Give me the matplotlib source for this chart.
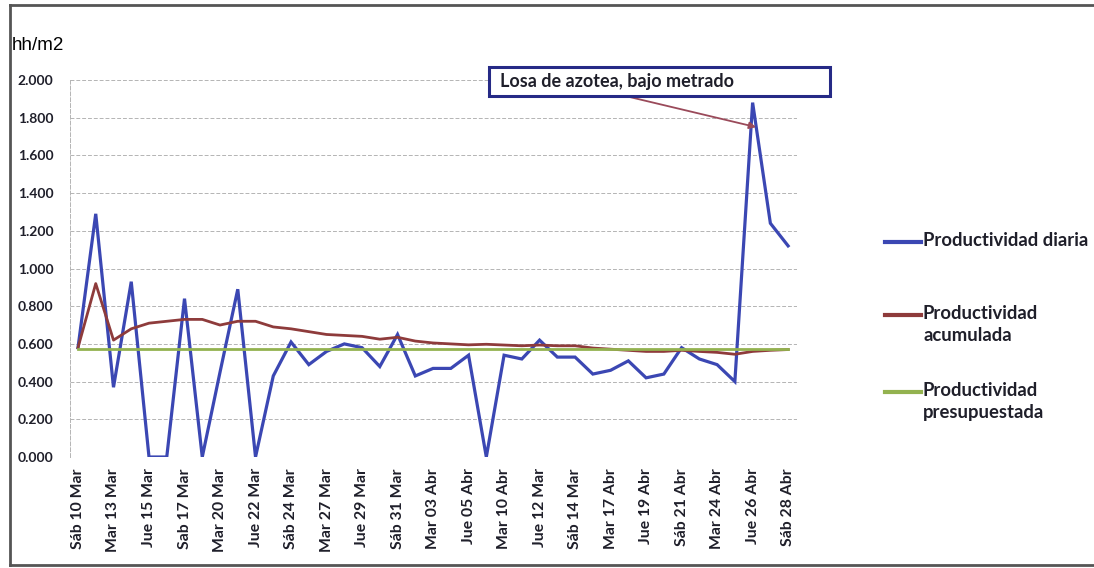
import matplotlib
matplotlib.use('Agg')
import matplotlib.pyplot as plt
from matplotlib.lines import Line2D
from matplotlib.patches import Rectangle

# dias trabajados (lun-sab), se rotula uno de cada dos
fechas = ["Sáb 10 Mar", "Lun 12 Mar", "Mar 13 Mar", "Mié 14 Mar", "Jue 15 Mar",
          "Vie 16 Mar", "Sab 17 Mar", "Lun 19 Mar", "Mar 20 Mar", "Mié 21 Mar",
          "Jue 22 Mar", "Vie 23 Mar", "Sáb 24 Mar", "Lun 26 Mar", "Mar 27 Mar",
          "Mié 28 Mar", "Jue 29 Mar", "Vie 30 Mar", "Sáb 31 Mar", "Lun 02 Abr",
          "Mar 03 Abr", "Mié 04 Abr", "Jue 05 Abr", "Lun 09 Abr", "Mar 10 Abr",
          "Mié 11 Abr", "Jue 12 Mar", "Vie 13 Abr", "Sáb 14 Mar", "Lun 16 Abr",
          "Mar 17 Abr", "Mié 18 Abr", "Jue 19 Abr", "Vie 20 Abr", "Sáb 21 Abr",
          "Lun 23 Abr", "Mar 24 Abr", "Mié 25 Abr", "Jue 26 Abr", "Vie 27 Abr",
          "Sáb 28 Abr"]

# hh/m2
diaria = [0.58, 1.29, 0.37, 0.93, 0.00, 0.00, 0.84, 0.00, 0.45, 0.89,
          0.00, 0.43, 0.61, 0.49, 0.56, 0.60, 0.58, 0.48, 0.65, 0.43,
          0.47, 0.47, 0.54, 0.00, 0.54, 0.52, 0.62, 0.53, 0.53, 0.44,
          0.46, 0.51, 0.42, 0.44, 0.58, 0.52, 0.49, 0.40, 1.88, 1.24,
          1.12]
acumulada = [0.58, 0.92, 0.62, 0.68, 0.71, 0.72, 0.73, 0.73, 0.70, 0.72,
             0.72, 0.69, 0.68, 0.665, 0.65, 0.645, 0.64, 0.625, 0.635, 0.615,
             0.605, 0.60, 0.595, 0.598, 0.594, 0.59, 0.594, 0.59, 0.59, 0.578,
             0.572, 0.566, 0.56, 0.56, 0.566, 0.56, 0.555, 0.545, 0.56, 0.566,
             0.57]
presupuesto = 0.575
presupuestada = [presupuesto] * len(fechas)

c_diaria = '#3B47B3'
c_acum = '#8E3B3B'
c_pres = '#93B24F'
txt = '#1f1f2a'
fuente = 'Lato'

fig = plt.figure(figsize=(10.94, 5.68), dpi=100)
ax = fig.add_axes([70/1094, 1 - 457/568, 727/1094, 377/568])

x = list(range(len(fechas)))
ax.plot(x, diaria, color=c_diaria, lw=2.3, solid_joinstyle='miter', zorder=3)
ax.plot(x, acumulada, color=c_acum, lw=2.0, zorder=4)
ax.plot(x, presupuestada, color=c_pres, lw=2.0, zorder=5)

ax.set_xlim(-0.45, 40.5)
ax.set_ylim(0, 2.0)
ax.set_yticks([i * 0.2 for i in range(11)])
ax.set_yticklabels(["%.3f" % (i * 0.2) for i in range(11)])
ax.set_xticks(x[::2])
ax.set_xticklabels(fechas[::2], rotation=90)
ax.tick_params(length=0)
ax.tick_params(axis='y', pad=12)
ax.tick_params(axis='x', pad=8)
for lab in ax.get_xticklabels():
    lab.set_fontsize(11.3)
for lab in ax.get_yticklabels():
    lab.set_fontsize(10)
for lab in ax.get_xticklabels() + ax.get_yticklabels():
    lab.set_family(fuente)
    lab.set_fontweight('bold')
    lab.set_color(txt)

ax.grid(axis='y', color='#b4b4b4', lw=0.7, ls=(0, (4, 2)))
ax.set_axisbelow(True)
for s in ['top', 'right', 'bottom']:
    ax.spines[s].set_visible(False)
ax.spines['left'].set_color('#b4b4b4')
ax.spines['left'].set_linestyle((0, (4, 2)))
ax.spines['left'].set_linewidth(0.7)

fig.text(12/1094, 1 - 45/568, "hh/m2", family='Liberation Sans',
         fontsize=13.5, color='black', va='center', ha='left')

# nota sobre el pico del 26 de abril
ax.annotate("", xy=(38.2, 1.75), xycoords='data',
            xytext=(617/1094, 1 - 94/568), textcoords='figure fraction',
            arrowprops=dict(arrowstyle='-|>', color='#9a4a5a', lw=1.3,
                            mutation_scale=10, shrinkA=0, shrinkB=0),
            zorder=6)
fig.patches.append(Rectangle((489/1094, 1 - 96/568), 341/1094, 29/568,
                             transform=fig.transFigure, fill=True,
                             facecolor='white', edgecolor='#262a86', lw=2.2,
                             zorder=7))
fig.text(500/1094, 1 - 82/568, "Losa de azotea, bajo metrado", family=fuente,
         fontweight='bold', fontsize=13, color=txt, va='center', ha='left',
         zorder=8)

# leyenda a la derecha
items = [(c_diaria, "Productividad diaria", 242),
         (c_acum, "Productividad\nacumulada", 315),
         (c_pres, "Productividad\npresupuestada", 392)]
for col, etiqueta, yp in items:
    fy = 1 - yp/568
    fig.add_artist(Line2D([885/1094, 921/1094], [fy, fy], color=col, lw=3.0,
                          transform=fig.transFigure))
    fig.text(923/1094, fy + 10/568, etiqueta, family=fuente, fontweight='bold',
             fontsize=13.3, color=txt, va='top', ha='left', linespacing=1.35)

# marco exterior
for xs, ys in [([10, 1094], [5, 5]), ([10, 10], [5, 565]), ([10, 1094], [565, 565])]:
    fig.add_artist(Line2D([v/1094 for v in xs], [1 - v/568 for v in ys],
                          color='#555555', lw=2.0, transform=fig.transFigure))

plt.savefig("out.png", dpi=100)
